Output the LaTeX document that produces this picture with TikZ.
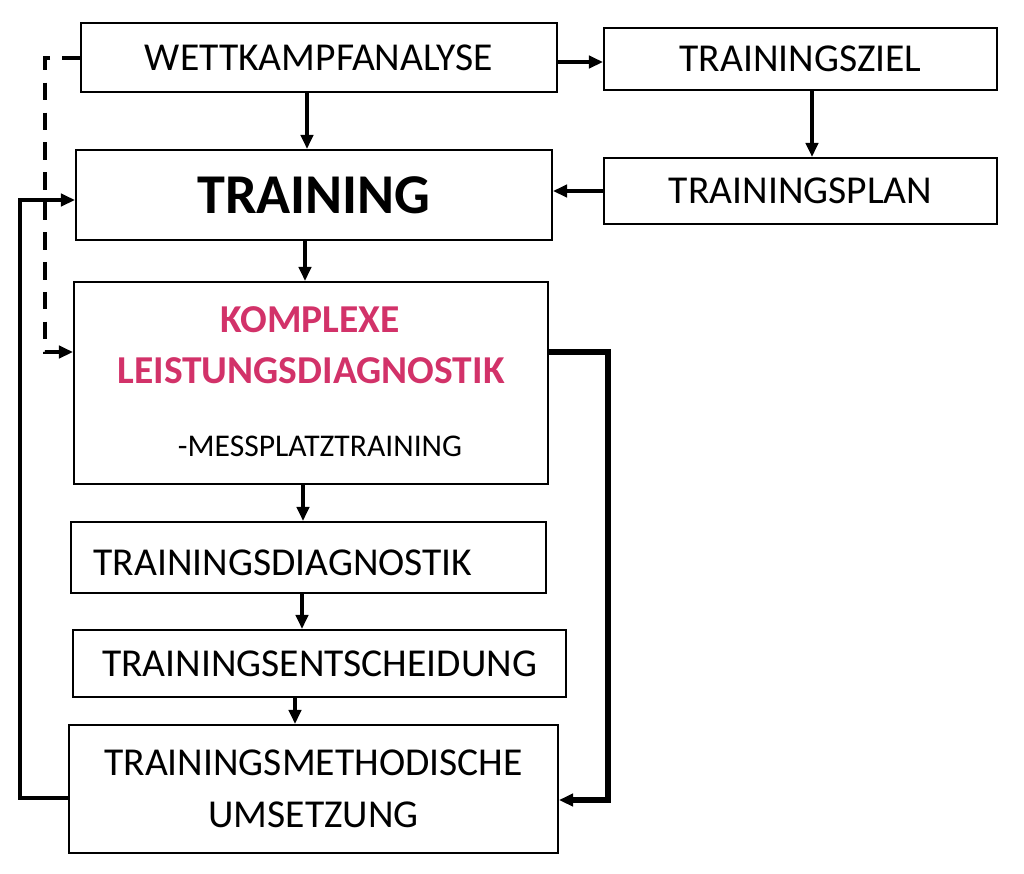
\documentclass[tikz,border=0pt]{standalone}
\usepackage{fontspec}
\setmainfont{Carlito}
\usetikzlibrary{arrows.meta}
\definecolor{diagpink}{RGB}{210,50,105}

\begin{document}
\begin{tikzpicture}[x=0.02cm,y=-0.02cm,>={Triangle[length=8pt,width=7pt]},semithick]
  \tikzstyle{box}=[draw,line width=1.2pt,inner sep=0pt,align=center,font=\fontsize{22.5}{29.5}\selectfont]
  \tikzstyle{arr}=[->,line width=2.3pt]
  \tikzstyle{fback}=[->,line width=2.8pt]
  \useasboundingbox (0,0) rectangle (1024,873);

  \node[box,minimum width=9.52cm,minimum height=1.38cm] (wett) at (319,57.5) {WETTKAMPFANALYSE};
  \node[box,minimum width=7.86cm,minimum height=1.24cm] (ziel) at (800.5,59) {TRAININGSZIEL};
  \node[box,minimum width=9.52cm,minimum height=1.8cm,font=\bfseries\fontsize{32}{36}\selectfont] (train) at (314,195) {TRAINING};
  \node[box,minimum width=7.86cm,minimum height=1.32cm] (plan) at (800.5,191) {TRAININGSPLAN};
  \node[box,minimum width=9.48cm,minimum height=4.04cm] (komp) at (311,383) {};
  \node[box,minimum width=9.5cm,minimum height=1.42cm] (diag) at (308.5,557.5) {};
  \node[box,minimum width=9.86cm,minimum height=1.34cm] (ents) at (319.5,663.5) {TRAININGSENTSCHEIDUNG};
  \node[box,minimum width=9.78cm,minimum height=2.56cm] (meth) at (313.5,789) {TRAININGSMETHODISCHE\\UMSETZUNG};

  % texts inside the boxes
  \node[anchor=base,inner sep=0pt,text=diagpink,font=\bfseries\fontsize{22.5}{27}\selectfont] (ktitle) at (310,332) {KOMPLEXE};
  \node[anchor=base,inner sep=0pt,text=diagpink,font=\bfseries\fontsize{22.5}{27}\selectfont] (ktitleb) at (311,383) {LEISTUNGSDIAGNOSTIK};
  \node[anchor=base,inner sep=0pt,font=\fontsize{18}{22}\selectfont] (ksub) at (320,456) {-MESSPLATZTRAINING};
  \node[anchor=base west,inner sep=0pt,font=\fontsize{22.5}{27}\selectfont] (dtext) at (93,575) {TRAININGSDIAGNOSTIK};

  \coordinate (dt) at (45,58);
  \coordinate (db) at (45,352);
  \coordinate (lb) at (20,798);
  \coordinate (lt) at (20,200);
  \coordinate (rt) at (608,352);
  \coordinate (rb) at (608,800);

  \draw[arr] (wett.east |- 0,62) -- (ziel.west |- 0,62);
  \draw[arr] (ziel.south -| 812,0) -- (plan.north -| 812,0);
  \draw[arr] (plan.west) -- (train.east |- plan.west);
  \draw[arr] (wett.south -| 307,0) -- (train.north -| 307,0);
  \draw[arr] (train.south -| 305,0) -- (komp.north -| 305,0);
  \draw[arr] (komp.south -| 303,0) -- (diag.north -| 303,0);
  \draw[arr] (diag.south -| 302,0) -- (ents.north -| 302,0);
  \draw[arr] (ents.south -| 295,0) -- (meth.north -| 295,0);

  % feedback
  \draw[fback,dash pattern=on 10pt off 7pt] (wett.west |- dt) -- (dt) -- (db) -- (komp.west |- db);
  \draw[fback] (meth.west |- lb) -- (lb) -- (lt) -- (train.west |- lt);
  \draw[fback,line width=3.3pt] (komp.east |- rt) -- (rt) -- (rb) -- (meth.east |- rb);
\end{tikzpicture}
\end{document}
